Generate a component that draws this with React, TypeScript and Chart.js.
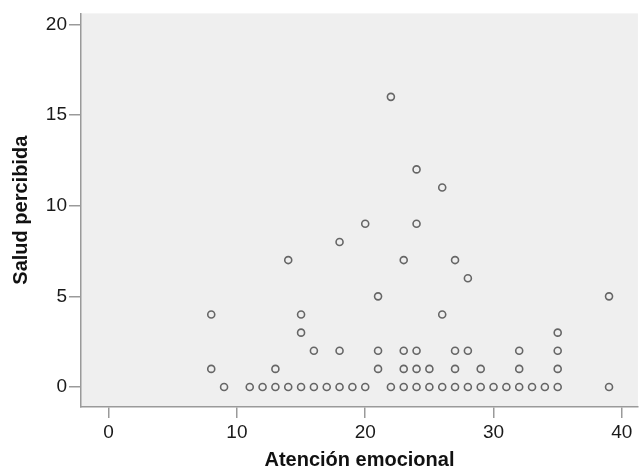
import React, { useEffect, useRef } from "react";
import { Chart, registerables } from "chart.js";

Chart.register(...registerables);

const atencion: number[] = [
  8, 8, 9, 11, 12, 13, 13, 14, 14, 15, 15, 15, 16, 16, 17, 18, 18, 18, 19, 20, 20,
  21, 21, 21, 22, 22, 23, 23, 23, 23, 24, 24, 24, 24, 24, 25, 25, 26, 26, 26,
  27, 27, 27, 27, 28, 28, 28, 29, 29, 30, 31, 32, 32, 32, 33, 34, 35, 35, 35, 35, 39, 39,
];
const salud: number[] = [
  4, 1, 0, 0, 0, 0, 1, 0, 7, 0, 3, 4, 0, 2, 0, 0, 2, 8, 0, 0, 9,
  1, 2, 5, 0, 16, 0, 1, 2, 7, 0, 1, 2, 9, 12, 0, 1, 0, 4, 11,
  0, 1, 2, 7, 0, 2, 6, 0, 1, 0, 0, 0, 1, 2, 0, 0, 0, 1, 2, 3, 0, 5,
];
const xTicks: number[] = [0, 10, 20, 30, 40];
const yTicks: number[] = [0, 5, 10, 15, 20];
const xTitle = "Atención emocional";
const yTitle = "Salud percibida";

const bgPlugin = {
  id: "plotBg",
  beforeDraw(chart: any) {
    const { ctx, chartArea } = chart;
    ctx.save();
    ctx.fillStyle = "#efefef";
    ctx.fillRect(chartArea.left, chartArea.top, chartArea.right - chartArea.left, chartArea.bottom - chartArea.top);
    ctx.restore();
  },
};

export default function App() {
  const ref = useRef<HTMLCanvasElement | null>(null);
  useEffect(() => {
    if (!ref.current) return;
    const points = atencion.map((x, i) => ({ x, y: salud[i] }));
    const axisColor = "#9a9a9a";
    const tickFont = { family: "Arial, 'Liberation Sans', sans-serif", size: 19 };
    const titleFont = { family: "Arial, 'Liberation Sans', sans-serif", size: 20, weight: "bold" as const, lineHeight: 1.2 };
    const chart = new Chart(ref.current, {
      type: "scatter",
      data: {
        datasets: [
          {
            data: points,
            pointRadius: 3.5,
            pointHoverRadius: 3.5,
            pointBorderWidth: 1.6,
            pointBorderColor: "#666666",
            pointBackgroundColor: "rgba(0,0,0,0)",
          },
        ],
      },
      options: {
        animation: false,
        responsive: false,
        events: [],
        layout: { padding: { left: 0, top: 12, right: 2, bottom: 0 } },
        plugins: { legend: { display: false }, tooltip: { enabled: false } },
        scales: {
          x: {
            type: "linear",
            min: -2.15,
            max: 41.25,
            afterBuildTicks: (s: any) => {
              s.ticks = xTicks.map((v) => ({ value: v }));
            },
            afterFit: (s: any) => {
              s.height = 64;
            },
            grid: { drawOnChartArea: false, drawTicks: true, tickLength: 11, color: axisColor, lineWidth: 1.5 },
            border: { display: true, color: axisColor, width: 1.5 },
            ticks: { font: tickFont, color: "#1a1a1a", padding: 3, maxRotation: 0 },
            title: { display: true, text: xTitle, font: titleFont, color: "#111", padding: { top: 0, bottom: -1 } },
          },
          y: {
            type: "linear",
            min: -1.1,
            max: 20.6,
            afterBuildTicks: (s: any) => {
              s.ticks = yTicks.map((v) => ({ value: v }));
            },
            afterFit: (s: any) => {
              s.width = 81;
            },
            grid: { drawOnChartArea: false, drawTicks: true, tickLength: 12, color: axisColor, lineWidth: 1.5 },
            border: { display: true, color: axisColor, width: 1.5 },
            ticks: { font: tickFont, color: "#1a1a1a", padding: 2 },
            title: { display: true, text: yTitle, font: titleFont, color: "#111", padding: { top: 9, bottom: 0 } },
          },
        },
      },
      plugins: [bgPlugin],
    });
    return () => chart.destroy();
  }, []);
  return (
    <div style={{ position: "absolute", left: 0, top: 0, width: 643, height: 471, background: "#fff" }}>
      <canvas ref={ref} width={643} height={471} style={{ display: "block", width: 643, height: 471 }} />
    </div>
  );
}
